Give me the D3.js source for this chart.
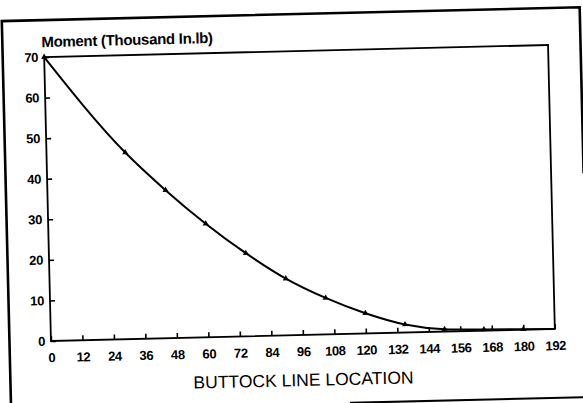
<!DOCTYPE html>
<html>
<head>
<meta charset="utf-8">
<script src="https://cdn.jsdelivr.net/npm/d3@7"></script>
<style>
  body { margin: 0; background: #fff; }
  svg { display: block; }
  text { font-family: "Liberation Sans", Arial, sans-serif; fill: #000; }
</style>
</head>
<body>
<svg id="chart" width="583" height="403"></svg>
<script>
// buttock line location (in) and bending moment (thousand in.lb)
const buttockLine = [0, 30, 45, 60, 75, 90, 105, 120, 135, 150, 165, 180, 192];
const moment = [70, 46, 36.5, 28, 20.5, 14, 9, 5, 2, 0.6, 0.3, 0.1, 0];
const markerIdx = [0, 1, 2, 3, 4, 5, 6, 7, 8, 9, 10, 11];
const xTicks = d3.range(0, 193, 12);
const yTicks = [0, 10, 20, 30, 40, 50, 60, 70];

const svg = d3.select('#chart');

// the scanned page is slightly rotated, so everything sits in one rotated group
const page = svg.append('g').attr('transform', 'rotate(-1.37, 300, 193)');

const plot = { left: 47.5, right: 551.5, top: 51, bottom: 335 };

const x = d3.scaleLinear().domain([0, 192]).range([plot.left, plot.right]);
const y = d3.scaleLinear().domain([0, 70]).range([plot.bottom, plot.top]);

// outer page frame (only parts of it show in the scan)
page.append('path')
  .attr('d', 'M6,420 L6,14 L584,14 L584,180')
  .attr('fill', 'none').attr('stroke', '#000').attr('stroke-width', 2.6);
page.append('line')
  .attr('x1', 345).attr('x2', 600).attr('y1', 404).attr('y2', 404)
  .attr('stroke', '#000').attr('stroke-width', 2);

// plot frame
page.append('rect')
  .attr('x', plot.left).attr('y', plot.top)
  .attr('width', plot.right - plot.left).attr('height', plot.bottom - plot.top)
  .attr('fill', 'none').attr('stroke', '#000').attr('stroke-width', 1.8);

// x axis, ticks pointing inward
const xAxis = page.append('g')
  .attr('transform', `translate(0,${plot.bottom})`)
  .call(d3.axisBottom(x).tickValues(xTicks).tickSizeInner(-5).tickSizeOuter(0).tickPadding(12));
xAxis.select('.domain').remove();
xAxis.selectAll('line').attr('stroke-width', 1.6);
xAxis.selectAll('text')
  .style('font-size', '13px').style('font-weight', 'bold').attr('letter-spacing', '-0.4');

// y axis, ticks pointing inward
const yAxis = page.append('g')
  .attr('transform', `translate(${plot.left},0)`)
  .call(d3.axisLeft(y).tickValues(yTicks).tickSizeInner(-5).tickSizeOuter(0).tickPadding(6));
yAxis.select('.domain').remove();
yAxis.selectAll('line').attr('stroke-width', 1.6);
yAxis.selectAll('text')
  .style('font-size', '13px').style('font-weight', 'bold').attr('letter-spacing', '-0.3');

// titles
page.append('text')
  .attr('x', 45).attr('y', 41)
  .style('font-size', '15px').style('font-weight', 'bold').attr('letter-spacing', '-0.3')
  .text('Moment (Thousand In.lb)');

page.append('text')
  .attr('x', 299).attr('y', 386).attr('text-anchor', 'middle')
  .style('font-size', '17.5px')
  .text('BUTTOCK LINE LOCATION');

// moment curve
const data = buttockLine.map((b, i) => ({ b: b, m: moment[i] }));
const line = d3.line()
  .x(d => x(d.b))
  .y(d => y(d.m))
  .curve(d3.curveMonotoneX);

page.append('path')
  .datum(data)
  .attr('d', line)
  .attr('fill', 'none')
  .attr('stroke', '#000')
  .attr('stroke-width', 2);

page.selectAll('.marker')
  .data(markerIdx.map(i => data[i]))
  .join('path')
  .attr('class', 'marker')
  .attr('transform', d => `translate(${x(d.b)},${y(d.m)})`)
  .attr('d', d3.symbol().type(d3.symbolTriangle).size(16))
  .attr('fill', '#000');
</script>
</body>
</html>
